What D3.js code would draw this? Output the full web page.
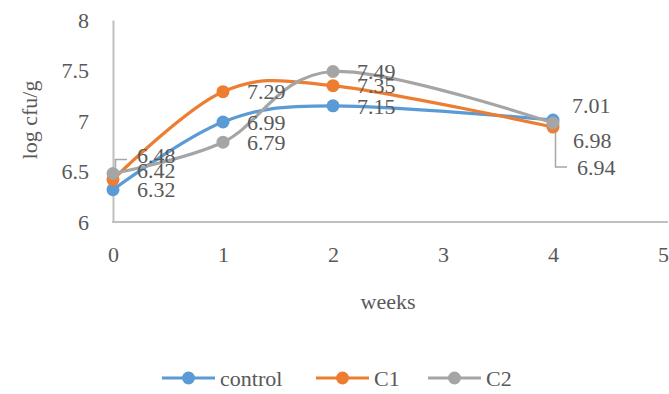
<!DOCTYPE html>
<html>
<head>
<meta charset="utf-8">
<script src="https://cdn.jsdelivr.net/npm/d3@7"></script>
<style>
  html, body { margin: 0; padding: 0; background: #fff; }
</style>
</head>
<body>
<svg id="chart" width="669" height="394"></svg>
<script>
// Weeks of storage and log cfu/g counts per treatment
const weeks = [0, 1, 2, 4];
const control = [6.32, 6.99, 7.15, 7.01];
const c1 = [6.42, 7.29, 7.35, 6.94];
const c2 = [6.48, 6.79, 7.49, 6.98];
const seriesNames = ["control", "C1", "C2"];
const xTicks = [0, 1, 2, 3, 4, 5];
const yTicks = [6, 6.5, 7, 7.5, 8];

const colors = { control: "#5B9BD5", C1: "#ED7D31", C2: "#A5A5A5" };
const FONT = "Liberation Serif";
const textColor = "#595959";

// Pixel nudges for data labels that would otherwise collide (index by week position)
const labelNudge = {
  control: [[0, 0], [0, 0], [0, 0], [-5, -15]],
  C1: [[0, -9], [0, 0], [0, 0], [0, 40]],
  C2: [[0, -18], [0, 0], [0, 0], [-4, 17]]
};
// Labels moved far enough to get a leader line
const leaders = { C2: [0], C1: [3] };

const series = [
  { name: seriesNames[0], values: control },
  { name: seriesNames[1], values: c1 },
  { name: seriesNames[2], values: c2 }
];

const svg = d3.select("#chart");
const x = d3.scaleLinear().domain([0, 5]).range([113, 663]);
const y = d3.scaleLinear().domain([6, 8]).range([222, 20]);

const axisColor = "#BFBFBF";

function styleText(sel) {
  return sel.attr("font-family", FONT)
    .attr("font-size", 22)
    .attr("fill", textColor);
}

// Y axis
const yAxis = svg.append("g")
  .attr("transform", `translate(${x(0)},0)`)
  .call(d3.axisLeft(y).tickValues(yTicks).tickSize(0).tickPadding(24)
    .tickFormat(d3.format("~g")));
yAxis.attr("font-family", FONT);
yAxis.select(".domain").attr("stroke", axisColor).attr("stroke-width", 2);
styleText(yAxis.selectAll("text"));

// X axis
const xAxis = svg.append("g")
  .attr("transform", `translate(0,${y(6)})`)
  .call(d3.axisBottom(x).tickValues(xTicks).tickSize(0).tickPadding(24)
    .tickFormat(d3.format("d")));
xAxis.attr("font-family", FONT);
xAxis.select(".domain").remove();
xAxis.append("line")
  .attr("x1", x(0) - 1).attr("x2", 668)
  .attr("y1", 0).attr("y2", 0)
  .attr("stroke", axisColor).attr("stroke-width", 2);
styleText(xAxis.selectAll("text"));

// Axis titles
styleText(svg.append("text")
  .attr("transform", `translate(37,120) rotate(-90)`)
  .attr("text-anchor", "middle")
  .text("log cfu/g"));

styleText(svg.append("text")
  .attr("x", 388).attr("y", 309)
  .attr("text-anchor", "middle")
  .text("weeks"));

// Smoothed lines
const line = d3.line()
  .x((d, i) => x(weeks[i]))
  .y(d => y(d))
  .curve(d3.curveCardinal.tension(0));

series.forEach(s => {
  const g = svg.append("g").attr("class", "series");
  g.append("path")
    .datum(s.values)
    .attr("d", line)
    .attr("fill", "none")
    .attr("stroke", colors[s.name])
    .attr("stroke-width", 3.2)
    .attr("stroke-linecap", "round");
  g.selectAll("circle")
    .data(s.values)
    .join("circle")
    .attr("cx", (d, i) => x(weeks[i]))
    .attr("cy", d => y(d))
    .attr("r", 6.5)
    .attr("fill", colors[s.name]);
});

// Data labels and leader lines
const labelLayer = svg.append("g");
series.forEach(s => {
  s.values.forEach((v, i) => {
    const px = x(weeks[i]), py = y(v);
    const [dx, dy] = labelNudge[s.name][i];
    const lx = px + 24 + dx, ly = py + dy;
    if ((leaders[s.name] || []).includes(i)) {
      const vx = px + 2.5;
      const startY = dy < 0 ? py - 6 : py + 5;
      const hy = dy < 0 ? ly + 4 : ly;
      labelLayer.append("path")
        .attr("d", `M${vx},${startY}V${hy}H${lx - 10}`)
        .attr("fill", "none")
        .attr("stroke", "#A6A6A6")
        .attr("stroke-width", 1.5);
    }
    styleText(labelLayer.append("text")
      .attr("x", lx).attr("y", ly)
      .attr("dy", "0.35em")
      .text(d3.format(".2f")(v)));
  });
});

// Legend
const legendItems = [
  { name: seriesNames[0], x: 162 },
  { name: seriesNames[1], x: 316 },
  { name: seriesNames[2], x: 428 }
];
const legend = svg.append("g").attr("transform", "translate(0,378)");
legendItems.forEach(item => {
  const g = legend.append("g").attr("transform", `translate(${item.x},0)`);
  g.append("line")
    .attr("x1", 0).attr("x2", 53)
    .attr("stroke", colors[item.name]).attr("stroke-width", 3.2);
  g.append("circle").attr("cx", 26.5).attr("r", 6.5).attr("fill", colors[item.name]);
  styleText(g.append("text")
    .attr("x", 58).attr("dy", "0.35em")
    .text(item.name));
});
</script>
</body>
</html>
